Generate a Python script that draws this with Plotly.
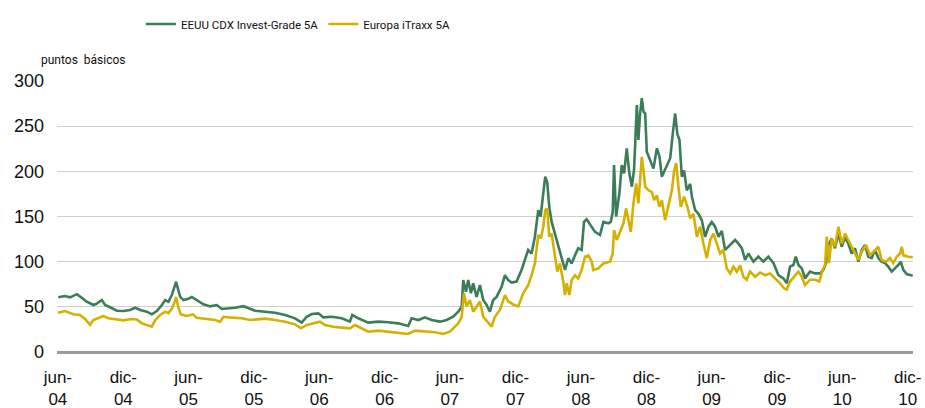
import datetime as dt
import plotly.graph_objects as go

# ---- data (decimal years, basis points) ----
cdx_t = [2004.419, 2004.470, 2004.508, 2004.560, 2004.598, 2004.636, 2004.687, 2004.713, 2004.751, 2004.776,
         2004.814, 2004.866, 2004.916, 2004.967, 2005.005, 2005.044, 2005.095, 2005.133, 2005.171, 2005.210,
         2005.235, 2005.260, 2005.286, 2005.304, 2005.319, 2005.332, 2005.350, 2005.375, 2005.413, 2005.439,
         2005.477, 2005.528, 2005.579, 2005.630, 2005.668, 2005.719, 2005.770, 2005.834, 2005.885, 2005.923,
         2006.000, 2006.076, 2006.153, 2006.229, 2006.280, 2006.318, 2006.357, 2006.407, 2006.445, 2006.510,
         2006.586, 2006.649, 2006.667, 2006.713, 2006.789, 2006.866, 2006.942, 2007.019, 2007.095, 2007.121,
         2007.172, 2007.223, 2007.274, 2007.338, 2007.389, 2007.439, 2007.478, 2007.504, 2007.516, 2007.537,
         2007.554, 2007.575, 2007.592, 2007.618, 2007.644, 2007.669, 2007.695, 2007.720, 2007.745, 2007.771,
         2007.810, 2007.835, 2007.860, 2007.886, 2007.924, 2007.962, 2007.988, 2008.013, 2008.039, 2008.064,
         2008.090, 2008.108, 2008.128, 2008.143, 2008.158, 2008.174, 2008.192, 2008.217, 2008.242, 2008.268,
         2008.294, 2008.319, 2008.345, 2008.370, 2008.395, 2008.421, 2008.439, 2008.459, 2008.485, 2008.523,
         2008.561, 2008.587, 2008.625, 2008.643, 2008.658, 2008.668, 2008.684, 2008.709, 2008.727, 2008.745,
         2008.765, 2008.785, 2008.804, 2008.821, 2008.842, 2008.854, 2008.867, 2008.880, 2008.893, 2008.906,
         2008.918, 2008.944, 2008.969, 2008.995, 2009.015, 2009.033, 2009.058, 2009.076, 2009.097, 2009.117,
         2009.135, 2009.152, 2009.168, 2009.186, 2009.203, 2009.224, 2009.250, 2009.263, 2009.288, 2009.313,
         2009.339, 2009.364, 2009.390, 2009.415, 2009.441, 2009.466, 2009.492, 2009.517, 2009.543, 2009.568,
         2009.594, 2009.619, 2009.645, 2009.670, 2009.696, 2009.734, 2009.772, 2009.810, 2009.848, 2009.887,
         2009.925, 2009.963, 2009.989, 2010.014, 2010.040, 2010.058, 2010.078, 2010.104, 2010.129, 2010.167,
         2010.206, 2010.244, 2010.269, 2010.290, 2010.307, 2010.333, 2010.358, 2010.384, 2010.410, 2010.435,
         2010.460, 2010.486, 2010.511, 2010.537, 2010.563, 2010.588, 2010.613, 2010.639, 2010.664, 2010.690,
         2010.715, 2010.741, 2010.766, 2010.792, 2010.817, 2010.843, 2010.861, 2010.881, 2010.907, 2010.953]
cdx_bp = [60.5, 62, 60.5, 64, 60, 55.7, 52, 53.6, 57.5, 52,
          49.5, 45.7, 45.4, 46.5, 49, 46.5, 44.6, 41.7, 45.4, 52,
          57.5, 55.7, 63, 70.5, 77.8, 70.5, 61, 57.5, 59, 61,
          57.5, 52.8, 50.5, 52, 47.6, 48, 49, 50.7, 48, 45.7,
          44.6, 43.5, 41, 37.3, 32.5, 39, 42, 42.8, 38.4, 39,
          37.3, 33.6, 41, 37.3, 32.5, 33.6, 32.9, 31.7, 28.8, 37.3,
          35.4, 38.4, 35.4, 33.6, 35.4, 39, 44.6, 50, 79.7, 66.8,
          79.7, 65, 76, 61, 74, 57.5, 52, 44.6, 57.5, 61,
          72.3, 85, 79.7, 76.9, 78, 90.8, 102, 113, 109, 127.6,
          157, 150, 175.7, 194, 188, 160.8, 144, 131, 117, 102,
          90.8, 103.7, 98, 107, 114.8, 113, 144, 147, 141, 133,
          129.5, 144, 142.5, 144, 155, 207, 150, 175.7, 207, 197.8,
          225.5, 197.8, 183, 202, 273.4, 234.7, 264, 281, 266, 264,
          221.7, 212.5, 203, 225.5, 216.5, 194, 202, 209.6, 214.5, 242,
          264, 241, 234.7, 194, 201, 179, 186, 172, 157, 153,
          146, 127.6, 138.7, 144, 138.7, 127.6, 134, 113, 116.5, 120,
          124, 120, 115, 102, 109, 100, 105.5, 100, 105.5, 98.5,
          85, 81.5, 76, 94.5, 96.3, 105.5, 96.3, 92.5, 81.5, 89,
          87, 87, 91, 98.5, 118.4, 125.5, 114.8, 131, 116.5, 127.6,
          120, 109, 114.8, 100, 113, 118.4, 105.5, 104, 113, 104,
          100, 98.5, 94.5, 89, 92.5, 96.3, 100, 91, 86.3, 84.5]

itraxx_t = [2004.417, 2004.470, 2004.534, 2004.585, 2004.623, 2004.661, 2004.687, 2004.725, 2004.763, 2004.801,
            2004.866, 2004.916, 2004.980, 2005.018, 2005.057, 2005.107, 2005.133, 2005.158, 2005.197, 2005.235,
            2005.260, 2005.286, 2005.304, 2005.319, 2005.334, 2005.355, 2005.401, 2005.447, 2005.477, 2005.554,
            2005.617, 2005.656, 2005.681, 2005.745, 2005.821, 2005.885, 2005.923, 2006.000, 2006.076, 2006.153,
            2006.229, 2006.275, 2006.318, 2006.369, 2006.420, 2006.458, 2006.522, 2006.586, 2006.649, 2006.688,
            2006.739, 2006.789, 2006.866, 2006.942, 2007.019, 2007.095, 2007.147, 2007.223, 2007.300, 2007.363,
            2007.414, 2007.439, 2007.478, 2007.504, 2007.521, 2007.542, 2007.567, 2007.592, 2007.618, 2007.644,
            2007.669, 2007.707, 2007.733, 2007.758, 2007.797, 2007.835, 2007.860, 2007.898, 2007.937, 2007.975,
            2008.013, 2008.039, 2008.064, 2008.090, 2008.110, 2008.128, 2008.143, 2008.158, 2008.174, 2008.192,
            2008.217, 2008.235, 2008.255, 2008.281, 2008.294, 2008.307, 2008.327, 2008.345, 2008.370, 2008.395,
            2008.421, 2008.447, 2008.472, 2008.498, 2008.510, 2008.548, 2008.587, 2008.638, 2008.658, 2008.668,
            2008.689, 2008.714, 2008.740, 2008.760, 2008.777, 2008.796, 2008.816, 2008.837, 2008.854, 2008.867,
            2008.880, 2008.893, 2008.906, 2008.931, 2008.957, 2008.974, 2008.995, 2009.013, 2009.033, 2009.058,
            2009.083, 2009.110, 2009.127, 2009.143, 2009.160, 2009.178, 2009.203, 2009.229, 2009.250, 2009.275,
            2009.301, 2009.326, 2009.351, 2009.377, 2009.403, 2009.428, 2009.454, 2009.479, 2009.504, 2009.530,
            2009.556, 2009.581, 2009.607, 2009.632, 2009.657, 2009.683, 2009.708, 2009.747, 2009.785, 2009.823,
            2009.861, 2009.900, 2009.938, 2009.968, 2009.989, 2010.014, 2010.053, 2010.078, 2010.104, 2010.129,
            2010.167, 2010.206, 2010.238, 2010.264, 2010.282, 2010.295, 2010.312, 2010.333, 2010.358, 2010.384,
            2010.410, 2010.435, 2010.460, 2010.498, 2010.537, 2010.563, 2010.596, 2010.626, 2010.664, 2010.690,
            2010.715, 2010.748, 2010.779, 2010.804, 2010.830, 2010.856, 2010.869, 2010.881, 2010.919, 2010.953]
itraxx_bp = [43.5, 45.4, 41.7, 41, 36.5, 30, 35.4, 37.3, 39.9, 37.3,
             36.2, 35, 36.5, 36, 31.7, 29, 28, 35, 41, 44.6,
             43, 48, 53.9, 61, 50.5, 41.7, 39.9, 41.7, 38, 36.5,
             35.4, 33.6, 39, 38, 37.3, 35.4, 36, 36.9, 35.4, 33.6,
             30.6, 26.2, 29.9, 31.7, 33.6, 29.9, 28, 27, 26.2, 29.9,
             26.2, 22.5, 23.6, 22.5, 21.8, 19.9, 23.6, 22.5, 21.8, 19.9,
             22.5, 26.2, 31.7, 39, 65, 50.5, 57.5, 44.6, 50.5, 56,
             39, 31.7, 28, 39, 46.5, 63, 56, 52.6, 50.5, 65,
             74, 85, 98, 129.5, 126, 138.7, 157, 159, 127.6, 131,
             105.5, 89, 98, 77.8, 63, 76, 63, 79.7, 85, 81.5,
             90.8, 105.5, 107, 100, 90.8, 92.5, 98, 100, 109, 135,
             124, 133, 142.5, 159, 146, 133, 164.6, 186.7, 164.6, 190.4,
             216, 201, 183, 179, 177, 168, 173.5, 160.8, 168, 146,
             160.8, 179, 201, 209, 183, 160.8, 172, 160.8, 148, 153,
             127.6, 138.7, 120, 103.7, 124, 131, 120, 109, 113, 92.5,
             87, 94.5, 89, 96, 83.4, 80, 89, 83.4, 88, 85,
             87, 81.5, 76, 70.5, 69, 78, 85, 89, 83.4, 74,
             80, 80, 78, 91, 96.3, 127.6, 98.5, 125.5, 116.5, 138.7,
             120, 131, 124, 113, 102, 111, 118.4, 107, 113, 116.5,
             102, 100, 104, 98.5, 105.5, 109, 116.5, 107, 105.5, 105]

tick_dates = ["2004-06-01", "2004-12-01", "2005-06-01", "2005-12-01", "2006-06-01", "2006-12-01",
              "2007-06-01", "2007-12-01", "2008-06-01", "2008-12-01", "2009-06-01", "2009-12-01",
              "2010-06-01", "2010-12-01"]
tick_text = ["jun-<br>04", "dic-<br>04", "jun-<br>05", "dic-<br>05", "jun-<br>06", "dic-<br>06",
             "jun-<br>07", "dic-<br>07", "jun-<br>08", "dic-<br>08", "jun-<br>09", "dic-<br>09",
             "jun-<br>10", "dic-<br>10"]
y_ticks = [0, 50, 100, 150, 200, 250, 300]


def to_date(t):
    y = int(t)
    start = dt.datetime(y, 1, 1)
    n = (dt.datetime(y + 1, 1, 1) - start).days
    return start + dt.timedelta(days=(t - y) * n)


GREEN = "#3B7D57"
YELLOW = "#D5B000"
NARROW = "Roboto, Liberation Sans, sans-serif"
REG = "Liberation Sans, Arial, sans-serif"

fig = go.Figure()
fig.add_trace(go.Scatter(x=[to_date(t) for t in cdx_t], y=cdx_bp, mode="lines",
                         name="EEUU CDX Invest-Grade 5A", line=dict(color=GREEN, width=2.6)))
fig.add_trace(go.Scatter(x=[to_date(t) for t in itraxx_t], y=itraxx_bp, mode="lines",
                         name="Europa iTraxx 5A", line=dict(color=YELLOW, width=2.6)))

fig.update_layout(
    width=925, height=408,
    margin=dict(l=57, r=12, t=81, b=56, autoexpand=False),
    paper_bgcolor="white", plot_bgcolor="white",
    showlegend=True,
    legend=dict(orientation="h", x=0.098, xanchor="left", xref="paper",
                y=0.941, yanchor="middle", yref="container",
                font=dict(family=NARROW, size=11.5, color="#111"), bgcolor="rgba(0,0,0,0)",
                itemwidth=30, tracegroupgap=0),
    annotations=[dict(text="puntos  básicos", x=-0.021, xref="paper", xanchor="left",
                      y=1.0775, yref="paper", yanchor="middle", showarrow=False,
                      font=dict(family=NARROW, size=12, color="#111"))],
)
fig.update_xaxes(type="date", range=[to_date(2004.409), to_date(2010.955)],
                 tickmode="array", tickvals=tick_dates, ticktext=tick_text,
                 tickfont=dict(family=REG, size=17, color="#111"), ticks="",
                 ticklabelstandoff=13, showgrid=False, zeroline=False, showline=False,
                 automargin=False)
fig.update_yaxes(range=[0, 300], tickmode="array", tickvals=y_ticks,
                 tickfont=dict(family=REG, size=18, color="#111"), ticks="",
                 ticklabelstandoff=12, showgrid=True, gridcolor="#CFCFCF", gridwidth=1.3,
                 zeroline=True, zerolinecolor="#9A9A9A", zerolinewidth=2.5, showline=False,
                 automargin=False)

fig.write_html("out.html", config={"displayModeBar": False},
               post_script="document.body.style.margin='0';document.body.style.padding='0';")
